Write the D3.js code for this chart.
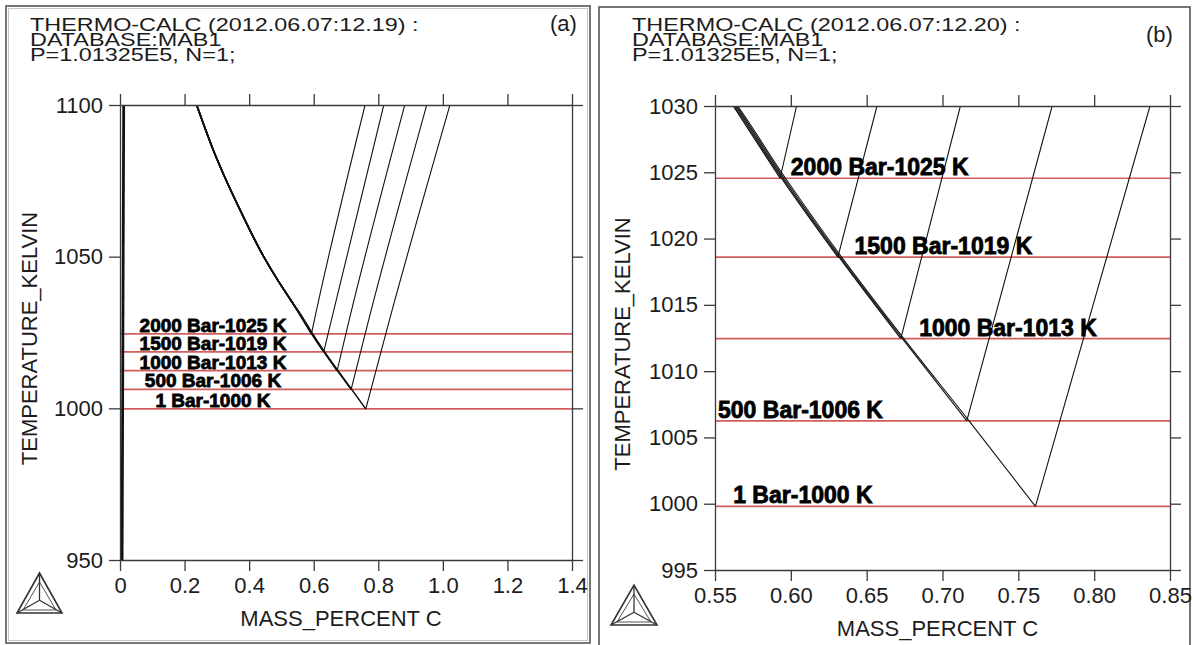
<!DOCTYPE html>
<html>
<head>
<meta charset="utf-8">
<script src="https://cdn.jsdelivr.net/npm/d3@7"></script>
<style>
body { margin: 0; background: #fff; }
svg { display: block; }
text { font-family: "Liberation Sans", Arial, Helvetica, sans-serif; fill: #1c1c1c; }
.lbl { font-weight: bold; fill: #000; stroke: #000; stroke-width: 0.8px; }
</style>
</head>
<body>
<svg id="chart" width="1194" height="645"></svg>
<script>
// pressure cases, from highest to lowest
var labels = ["2000 Bar-1025 K", "1500 Bar-1019 K", "1000 Bar-1013 K", "500 Bar-1006 K", "1 Bar-1000 K"];
var eutectoidT = [1024.55, 1018.6, 1012.45, 1006.25, 999.8];

// gamma / gamma+alpha boundary, upper part (shared by all pressures)
var a3Upper = [[0.2375, 1100], [0.297, 1083], [0.392, 1061], [0.445, 1050], [0.490, 1042], [0.533, 1035]];
// lower part, one per pressure, ending at the eutectoid point
var a3Lower = [
  [[0.562, 1030], [0.5929, 1024.55]],
  [[0.5627, 1030], [0.5938, 1024.55], [0.631, 1018.6]],
  [[0.5635, 1030], [0.5946, 1024.55], [0.6318, 1018.6], [0.6725, 1012.45]],
  [[0.5642, 1030], [0.5955, 1024.55], [0.6325, 1018.6], [0.6735, 1012.45], [0.716, 1006.25]],
  [[0.565, 1030], [0.5965, 1024.55], [0.6335, 1018.6], [0.6745, 1012.45], [0.7175, 1006.25], [0.7613, 999.8]]
];
// gamma / gamma+cementite boundary, one per pressure
var acm = [
  [[0.5929, 1024.55], [0.6038, 1030], [0.759, 1100]],
  [[0.631, 1018.6], [0.6568, 1030], [0.817, 1100]],
  [[0.6725, 1012.45], [0.7118, 1030], [0.882, 1100]],
  [[0.716, 1006.25], [0.7723, 1030], [0.950, 1100]],
  [[0.7613, 999.8], [0.8368, 1030], [1.022, 1100]]
];
// alpha / alpha+gamma boundary near zero carbon
var ferrite = [
  [[0.005, 950], [0.010, 1100]],
  [[0.008, 950], [0.013, 1100]]
];

var xTicksA = [0, 0.2, 0.4, 0.6, 0.8, 1.0, 1.2, 1.4];
var yTicksA = [950, 1000, 1050, 1100];
var xTicksB = [0.55, 0.60, 0.65, 0.70, 0.75, 0.80, 0.85];
var yTicksB = [995, 1000, 1005, 1010, 1015, 1020, 1025, 1030];
var labelXB = [0.600, 0.642, 0.6846, 0.552, 0.562];

var svg = d3.select("#chart");

// panel frames
svg.append("rect").attr("x", 6).attr("y", 6).attr("width", 584).attr("height", 637)
   .attr("fill", "none").attr("stroke", "#555").attr("stroke-width", 1.6);
svg.append("rect").attr("x", 8.5).attr("y", 8.5).attr("width", 579).attr("height", 632)
   .attr("fill", "none").attr("stroke", "#c8c8c8").attr("stroke-width", 1);
svg.append("rect").attr("x", 599).attr("y", 7).attr("width", 591).attr("height", 660)
   .attr("fill", "none").attr("stroke", "#555").attr("stroke-width", 1.6);

function drawLogo(g, x0, y0, w, h) {
  var outer = [[x0, y0 + h], [x0 + w, y0 + h], [x0 + w / 2, y0]];
  var cx = x0 + w / 2, cy = y0 + h * 0.68;
  var inner = [[x0 + 6, y0 + h - 3], [x0 + w - 6, y0 + h - 3], [x0 + w / 2, y0 + 9]];
  g.append("path").attr("d", "M" + outer.join("L") + "Z")
   .attr("fill", "none").attr("stroke", "#333").attr("stroke-width", 1.6);
  g.append("path").attr("d", "M" + inner.join("L") + "Z")
   .attr("fill", "none").attr("stroke", "#555").attr("stroke-width", 1);
  outer.forEach(function(p) {
    g.append("line").attr("x1", cx).attr("y1", cy).attr("x2", p[0]).attr("y2", p[1])
     .attr("stroke", "#333").attr("stroke-width", 1.3);
  });
}

function drawPanel(cfg) {
  var x = d3.scaleLinear().domain(cfg.xDomain).range([cfg.left, cfg.right]),
      y = d3.scaleLinear().domain(cfg.yDomain).range([cfg.bottom, cfg.top]),
      g = svg.append("g");

  // header, printed in a wide face by the program
  var head = g.append("g").attr("transform", "translate(" + cfg.headX + ",31) scale(1.3,1)");
  cfg.header.forEach(function(t, i) {
    head.append("text").attr("x", 0).attr("y", i * 14.8).attr("font-size", 18).text(t);
  });
  g.append("text").attr("x", cfg.tagX).attr("y", cfg.tagY)
   .attr("font-family", "'Open Sans', sans-serif").attr("font-size", 22)
   .text(cfg.tag);

  g.append("clipPath").attr("id", cfg.id).append("rect")
   .attr("x", cfg.left).attr("y", cfg.top)
   .attr("width", cfg.right - cfg.left).attr("height", cfg.bottom - cfg.top);
  var plot = g.append("g").attr("clip-path", "url(#" + cfg.id + ")");

  // red isotherms at each eutectoid temperature
  plot.selectAll(".iso").data(eutectoidT).enter().append("line")
      .attr("class", "iso")
      .attr("x1", cfg.left).attr("x2", cfg.right)
      .attr("y1", function(d) { return y(d); })
      .attr("y2", function(d) { return y(d); })
      .attr("stroke", "#d25e5e").attr("stroke-width", 1.7);

  var line = d3.line().curve(d3.curveMonotoneY)
               .x(function(d) { return x(d[0]); }).y(function(d) { return y(d[1]); });

  plot.selectAll(".a3").data(a3Lower).enter().append("path")
      .attr("d", function(d) { return line(a3Upper.concat(d)); })
      .attr("fill", "none").attr("stroke", "#111").attr("stroke-width", cfg.a3Width);
  plot.selectAll(".acm").data(acm).enter().append("path")
      .attr("d", function(d) { return line(d); })
      .attr("fill", "none").attr("stroke", "#111").attr("stroke-width", 1.1);
  plot.selectAll(".fer").data(ferrite).enter().append("path")
      .attr("d", function(d) { return line(d); })
      .attr("fill", "none").attr("stroke", "#111").attr("stroke-width", 1.8);

  // axes on all four sides, ticks outward
  var axes = [
    [d3.axisBottom(x).tickValues(cfg.xTicks).tickFormat(cfg.xFmt), "translate(0," + cfg.bottom + ")", true],
    [d3.axisTop(x).tickValues(cfg.xTicks), "translate(0," + cfg.top + ")", false],
    [d3.axisLeft(y).tickValues(cfg.yTicks).tickFormat(d3.format("d")), "translate(" + cfg.left + ",0)", true],
    [d3.axisRight(y).tickValues(cfg.yTicks), "translate(" + cfg.right + ",0)", false]
  ];
  axes.forEach(function(a) {
    var ax = g.append("g").attr("transform", a[1])
              .call(a[0].tickSize(11).tickSizeOuter(0).tickPadding(6));
    ax.attr("font-family", null).attr("font-size", null);
    ax.selectAll("path, line").attr("stroke", "#3a3a3a").attr("stroke-width", 1.3);
    if (a[2]) ax.selectAll("text").attr("font-size", 22).attr("fill", "#1c1c1c");
    else ax.selectAll("text").remove();
  });

  g.append("text").attr("x", (cfg.left + cfg.right) / 2 - 5).attr("y", cfg.xTitleY)
   .attr("text-anchor", "middle").attr("font-size", 22).text("MASS_PERCENT C");
  g.append("text").attr("transform", "translate(" + cfg.yTitleX + "," + ((cfg.top + cfg.bottom) / 2 + 6) + ") rotate(-90)")
   .attr("text-anchor", "middle").attr("font-size", 22).text("TEMPERATURE_KELVIN");

  // pressure labels
  g.selectAll(".lbl-" + cfg.id).data(labels).enter().append("text")
   .attr("class", "lbl")
   .attr("x", function(d, i) { return cfg.labelX ? x(cfg.labelX[i]) : x(cfg.labelMid); })
   .attr("y", function(d, i) { return y(eutectoidT[i]) - cfg.labelGap; })
   .attr("text-anchor", cfg.labelX ? "start" : "middle")
   .attr("font-size", cfg.labelSize)
   .text(function(d) { return d; });

  drawLogo(g, cfg.logo[0], cfg.logo[1], cfg.logo[2], cfg.logo[3]);
}

drawPanel({
  id: "pa", left: 120, right: 572, top: 105, bottom: 560,
  xDomain: [0, 1.4], yDomain: [950, 1100],
  xTicks: xTicksA, yTicks: yTicksA,
  xFmt: function(d) { return d === 0 ? "0" : d3.format(".1f")(d); },
  header: ["THERMO-CALC (2012.06.07:12.19) :", "DATABASE:MAB1", "P=1.01325E5, N=1;"],
  headX: 30, tag: "(a)", tagX: 550, tagY: 31,
  a3Width: 1.6, labelMid: 0.288, labelGap: 2, labelSize: 19,
  xTitleY: 626, yTitleX: 37,
  logo: [17, 573, 45, 40]
});

drawPanel({
  id: "pb", left: 715, right: 1170, top: 106, bottom: 570,
  xDomain: [0.55, 0.85], yDomain: [995, 1030],
  xTicks: xTicksB, yTicks: yTicksB,
  xFmt: d3.format(".2f"),
  header: ["THERMO-CALC (2012.06.07:12.20) :", "DATABASE:MAB1", "P=1.01325E5, N=1;"],
  headX: 632, tag: "(b)", tagX: 1146, tagY: 42,
  a3Width: 1.1, labelX: labelXB, labelGap: 3, labelSize: 23,
  xTitleY: 636, yTitleX: 630,
  logo: [611, 585, 46, 40]
});
</script>
</body>
</html>
